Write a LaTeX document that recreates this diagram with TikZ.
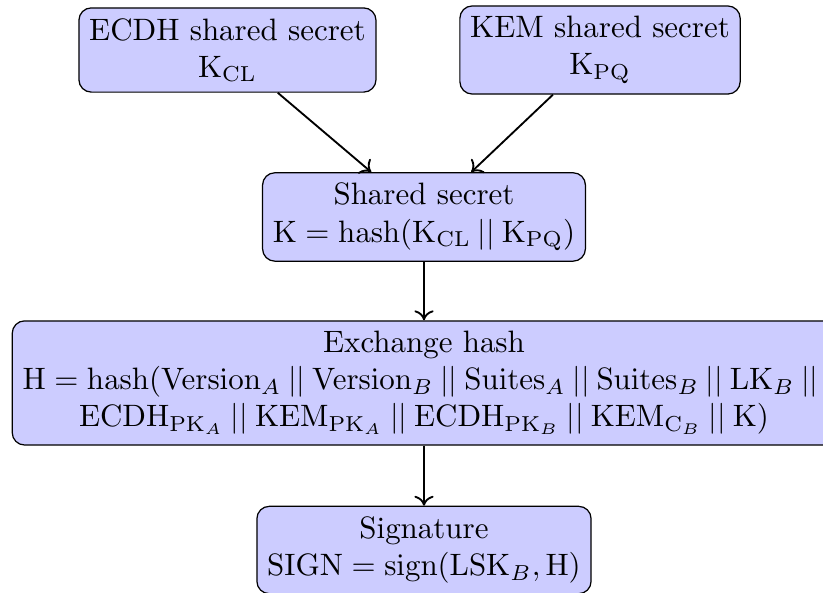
\documentclass[tikz,border=0pt]{standalone}
\usetikzlibrary{arrows.meta}
\begin{document}
\begin{tikzpicture}[box/.style={draw, rounded corners, fill=blue!20, align=center},
  arr/.style={-{Computer Modern Rightarrow[length=3.2pt, width=6.2pt]}, semithick}]
\useasboundingbox (0,0) rectangle (9.346,-6.723);
\node[box] (ecdh) at (2.583,-0.568){ECDH shared secret\\ $\mathrm{K}_{\mathrm{CL}}$};
\node[box] (kem) at (6.814,-0.568){KEM shared secret\\ $\mathrm{K}_{\mathrm{PQ}}$};
\node[box] (shared) at (4.815,-2.464){Shared secret\\ $\mathrm{K} = \mathrm{hash}(\mathrm{K}_{\mathrm{CL}} \mathbin{||} \mathrm{K}_{\mathrm{PQ}})$};
\draw[arr](ecdh) -- (shared);
\draw[arr](kem) -- (shared);
\node[box] (exch) at (4.815,-4.349){Exchange hash\\ $\mathrm{H} = \mathrm{hash}(\mathrm{Version}_A \mathbin{||} \mathrm{Version}_B \mathbin{||} \mathrm{Suites}_A \mathbin{||} \mathrm{Suites}_B \mathbin{||} \mathrm{LK}_B \mathbin{||}{}$\\ $\mathrm{ECDH}_{\mathrm{PK}_A} \mathbin{||} \mathrm{KEM}_{\mathrm{PK}_A} \mathbin{||} \mathrm{ECDH}_{\mathrm{PK}_B} \mathbin{||} \mathrm{KEM}_{\mathrm{C}_B} \mathbin{||} \mathrm{K})$};
\draw[arr](shared) -- (exch);
\node[box] (sign) at (4.815,-6.246){Signature\\ $\mathrm{SIGN} = \mathrm{sign}(\mathrm{LSK}_B, \mathrm{H})$};
\draw[arr](exch) -- (sign);
\end{tikzpicture}
\end{document}
